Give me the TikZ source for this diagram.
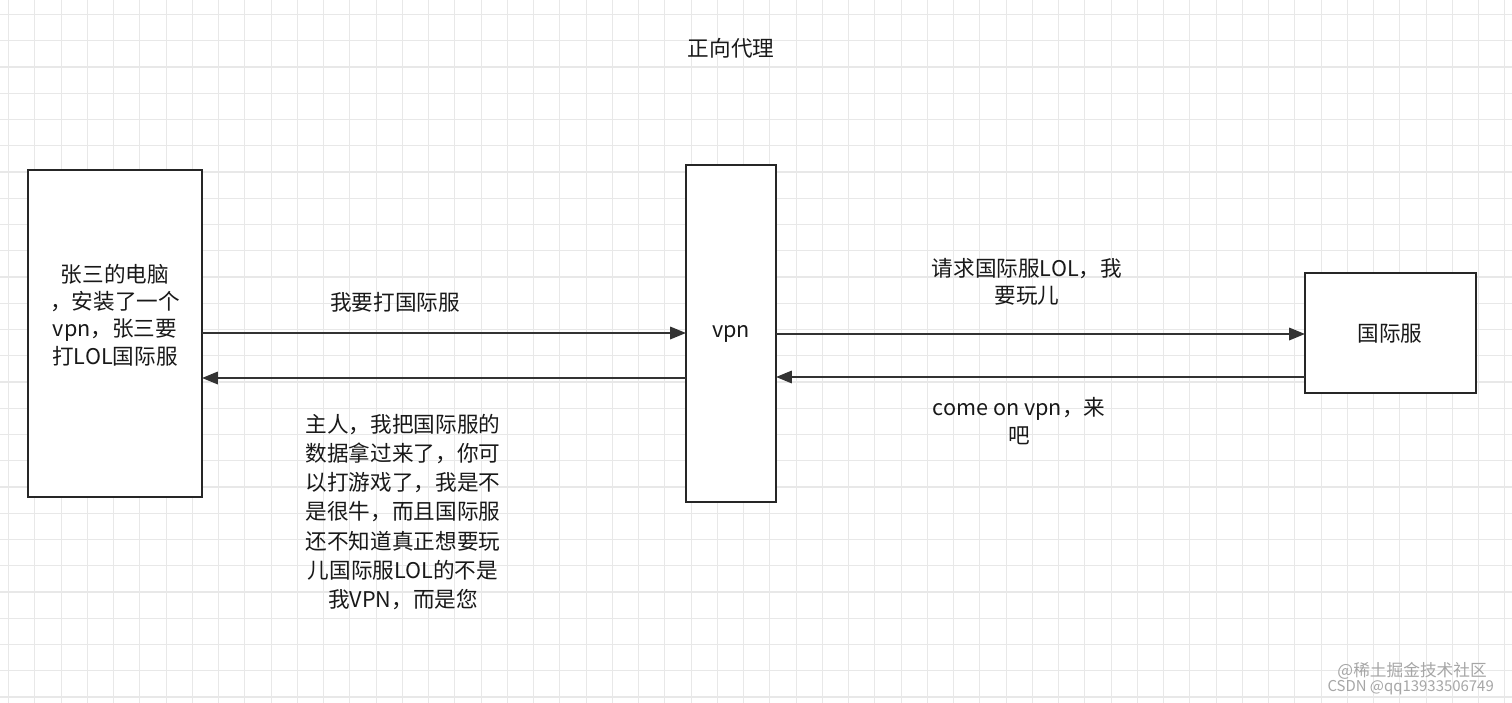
\documentclass[tikz,border=0pt]{standalone}
\usepackage{fontspec}
\setmainfont{Noto Sans CJK SC}
\usetikzlibrary{arrows.meta}
\begin{document}
\begin{tikzpicture}[x=0.02cm,y=-0.02cm,
  box/.style={draw=black!85,line width=1.3pt,fill=white,inner sep=0},
  lbl/.style={font=\fontsize{12.3}{15.5}\selectfont,align=center,text=black!90},
  conn/.style={draw=black!80,line width=1.3pt,-{Triangle[length=9pt,width=7pt]}}]
\useasboundingbox (0,0) rectangle (1512,703);
\fill[white] (0,0) rectangle (1512,703);
\foreach \i in {0,...,57} \draw[black!9,line width=0.6pt] (8.7+26.25*\i,0) -- (8.7+26.25*\i,703);
\foreach \j in {0,...,26} \draw[black!9,line width=0.6pt] (0,14.5+26.25*\j) -- (1512,14.5+26.25*\j);
\node[lbl] (title) at (731,48) {正向代理};
\draw[box] (28,170) rectangle (202,497);
\node[lbl] (pc) at (115,315) {张三的电脑\\，安装了一个\\vpn，张三要\\打LOL国际服};
\draw[box] (686,165) rectangle (776,502);
\node[lbl] (vpn) at (731,334) {vpn};
\draw[box] (1305,273) rectangle (1476,393);
\node[lbl] (srv) at (1390,334) {国际服};
\coordinate (pcR1) at (202,333); \coordinate (pcR2) at (202,378);
\coordinate (vL1) at (686,333); \coordinate (vL2) at (686,378);
\coordinate (vR1) at (776,334); \coordinate (vR2) at (776,377);
\coordinate (sL1) at (1305,334); \coordinate (sL2) at (1305,377);
\draw[conn] (pcR1) -- (vL1);
\draw[conn] (vL2) -- (pcR2);
\draw[conn] (vR1) -- (sL1);
\draw[conn] (sL2) -- (vR2);
\node[lbl] (m1) at (395,302) {我要打国际服};
\node[lbl,font=\fontsize{12.3}{16.6}\selectfont] (m2) at (403,512) {主人，我把国际服的\\数据拿过来了，你可\\以打游戏了，我是不\\是很牛，而且国际服\\还不知道真正想要玩\\儿国际服LOL的不是\\我VPN，而是您};
\node[lbl] (m3) at (1027,282) {请求国际服LOL，我\\要玩儿};
\node[lbl] (m4) at (1019,421) {come on vpn，来\\吧};
\node[font=\fontsize{9.5}{11}\selectfont,text=black!35,anchor=east] (w1) at (1493,671) {@稀土掘金技术社区};
\node[font=\fontsize{8.5}{10}\selectfont,text=black!35,anchor=east] (w2) at (1500,688) {CSDN @qq13933506749};
\end{tikzpicture}
\end{document}
